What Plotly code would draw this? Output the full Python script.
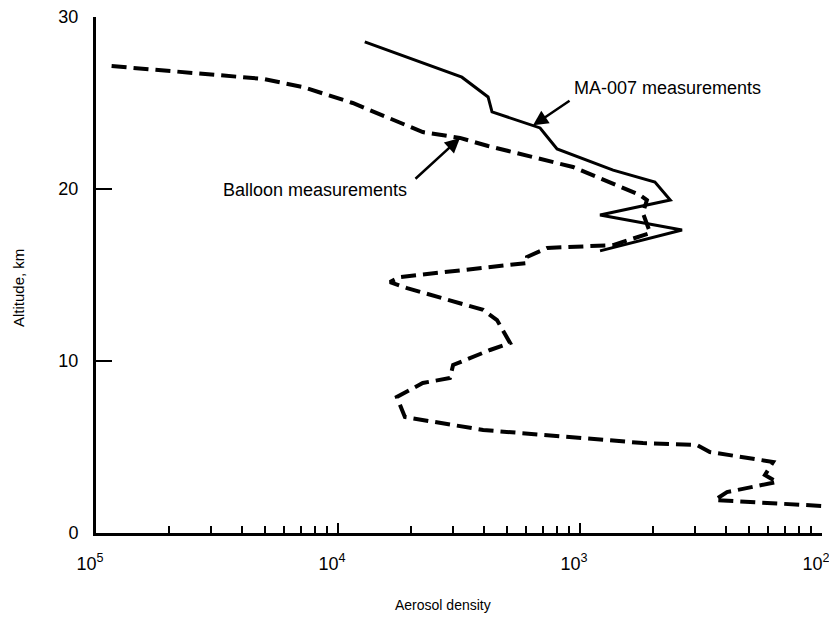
import plotly.graph_objects as go

# MA-007 measurements (solid line)
ma_density = [1.29e-4, 3.25e-4, 4.17e-4, 4.33e-4, 6.84e-4, 8.04e-4, 1.37e-3,
              2.04e-3, 2.36e-3, 1.21e-3, 2.64e-3, 1.21e-3]
ma_altitude = [28.55, 26.5, 25.35, 24.48, 23.55, 22.33, 21.1,
               20.4, 19.36, 18.49, 17.62, 16.4]

# Balloon measurements (dashed line)
balloon_density = [1.16e-5, 2.61e-5, 4.90e-5, 7.16e-5, 1.15e-4, 2.24e-4, 3.19e-4,
                   4.17e-4, 9.35e-4, 1.77e-3, 1.89e-3, 1.82e-3, 1.86e-3, 1.95e-3,
                   1.37e-3, 7.31e-4, 6.04e-4, 6.04e-4, 1.80e-4, 1.64e-4, 1.93e-4,
                   3.98e-4, 4.54e-4, 5.14e-4, 4.25e-4, 2.99e-4, 2.90e-4, 2.24e-4,
                   1.75e-4, 1.89e-4, 3.98e-4, 1.82e-3, 3.04e-3, 3.44e-3, 6.28e-3,
                   5.81e-3, 6.52e-3, 4.05e-3, 3.61e-3, 4.29e-3, 1.00e-2]
balloon_altitude = [27.15, 26.74, 26.4, 25.93, 25.0, 23.31, 22.97,
                    22.5, 21.28, 19.65, 19.36, 18.6, 18.2, 17.44,
                    16.74, 16.57, 16.05, 15.7, 14.88, 14.59, 14.24,
                    12.97, 12.38, 11.05, 10.64, 9.77, 9.01, 8.72,
                    7.91, 6.74, 5.99, 5.23, 5.12, 4.71, 4.13,
                    3.37, 2.97, 2.38, 1.92, 1.86, 1.57]

x_tickvals = [1e-5, 1e-4, 1e-3, 1e-2]
x_ticktext = ["10<sup>5</sup>", "10<sup>4</sup>", "10<sup>3</sup>", "10<sup>2</sup>"]
y_tickvals = [0, 10, 20, 30]

FONT = "Liberation Sans, Arial, Helvetica, sans-serif"

fig = go.Figure()
fig.add_trace(go.Scatter(x=balloon_density, y=balloon_altitude, mode="lines",
                         line=dict(color="black", width=4, dash="15px,7px"),
                         name="Balloon measurements", cliponaxis=False))
fig.add_trace(go.Scatter(x=ma_density, y=ma_altitude, mode="lines",
                         line=dict(color="black", width=3),
                         name="MA-007 measurements", cliponaxis=False))

fig.update_layout(
    width=837, height=621,
    margin=dict(l=88, r=23, t=9, b=96, autoexpand=False),
    paper_bgcolor="white", plot_bgcolor="white",
    showlegend=False,
    font=dict(family=FONT, color="black", size=16),
    xaxis=dict(type="log", range=[-5, -2], showgrid=False, zeroline=False,
               automargin=False, ticklabeloverflow="allow",
               showline=True, linecolor="black", linewidth=3,
               tickvals=x_tickvals, ticktext=x_ticktext,
               ticks="inside", ticklen=10, tickwidth=2, tickcolor="black",
               ticklabelstandoff=12, ticklabelshift=-6,
               minor=dict(ticks="inside", ticklen=7, tickwidth=2,
                          tickcolor="black", dtick="D1", showgrid=False),
               tickfont=dict(size=18)),
    yaxis=dict(range=[0, 30], showgrid=False, zeroline=False,
               automargin=False, ticklabeloverflow="allow",
               showline=True, linecolor="black", linewidth=3,
               tickvals=y_tickvals, ticks="inside", ticklen=16, tickwidth=2,
               tickcolor="black", ticklabelstandoff=11,
               tickfont=dict(size=18)),
)

# axis titles
fig.add_annotation(text="Aerosol density", xref="paper", yref="paper",
                   x=(443 - 96) / 726, y=-(605 - 533) / 516, showarrow=False,
                   font=dict(size=14), xanchor="center", yanchor="middle")
fig.add_annotation(text="Altitude, km", xref="paper", yref="paper",
                   x=-(96 - 18) / 726, y=(533 - 288) / 516, showarrow=False,
                   textangle=-90, font=dict(size=15),
                   xanchor="center", yanchor="middle")

# labels with arrows
fig.add_annotation(text="MA-007 measurements", xref="paper", yref="paper",
                   x=(667 - 96) / 726, y=(533 - 88) / 516, showarrow=False,
                   font=dict(size=18), xanchor="center", yanchor="middle")
fig.add_annotation(text=" ", x=-3.194, y=23.7, ax=40, ay=-27,
                   showarrow=True, arrowhead=2, arrowsize=1.2, arrowwidth=2.5,
                   arrowcolor="black")
fig.add_annotation(text="Balloon measurements", xref="paper", yref="paper",
                   x=(315 - 96) / 726, y=(533 - 190) / 516, showarrow=False,
                   font=dict(size=18), xanchor="center", yanchor="middle")
fig.add_annotation(text=" ", x=-3.496, y=22.97, ax=-48, ay=44,
                   showarrow=True, arrowhead=2, arrowsize=1.2, arrowwidth=2.5,
                   arrowcolor="black")

fig.write_html("out.html")
